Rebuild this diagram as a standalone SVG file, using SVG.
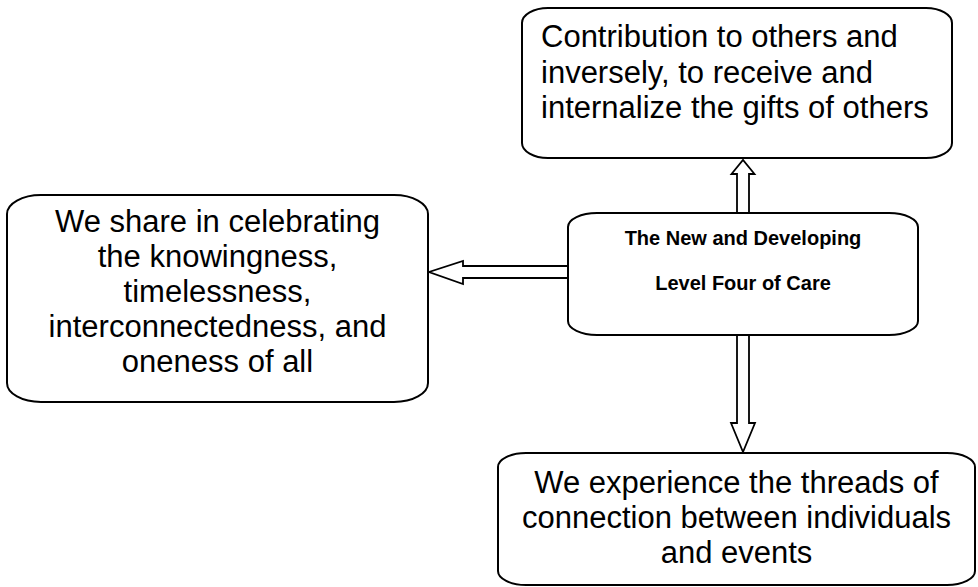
<svg xmlns="http://www.w3.org/2000/svg" width="978" height="587" viewBox="0 0 978 587">
  <style>
    .box { fill: #ffffff; stroke: #000000; stroke-width: 2; }
    .arrow { fill: #ffffff; stroke: #000000; stroke-width: 1.8; stroke-linejoin: miter; }
    .big { font-family: "Liberation Sans", Arial, sans-serif; font-size: 31px; fill: #000000; }
    .mid { text-anchor: middle; }
    .core { font-family: "Liberation Sans", Arial, sans-serif; font-size: 20px; font-weight: bold; fill: #000000; text-anchor: middle; }
  </style>
  <rect width="978" height="587" fill="#ffffff"/>

  <!-- block arrows linking the central node to the three outer nodes -->
  <g id="connectors">
    <!-- up -->
    <polygon class="arrow" points="737,213 737,174 731.5,174 743,160 754.5,174 749,174 749,213"/>
    <!-- left -->
    <polygon class="arrow" points="568,266 463,266 463,261 429,272 463,284 463,278 568,278"/>
    <!-- down -->
    <polygon class="arrow" points="737,335 737,423 731,423 743,452 755,423 749,423 749,335"/>
  </g>

  <g id="node-contribution">
    <rect class="box" x="522" y="8" width="430" height="150" rx="26" ry="15"/>
    <text class="big" x="541" y="47">Contribution to others and</text>
    <text class="big" x="541" y="82.5">inversely, to receive and</text>
    <text class="big" x="541" y="118">internalize the gifts of others</text>
  </g>

  <g id="node-sharing">
    <rect class="box" x="7" y="195" width="421" height="207" rx="34" ry="19"/>
    <text class="big mid" x="217.5" y="232">We share in celebrating</text>
    <text class="big mid" x="217.5" y="267">the knowingness,</text>
    <text class="big mid" x="217.5" y="302">timelessness,</text>
    <text class="big mid" x="217.5" y="337">interconnectedness, and</text>
    <text class="big mid" x="217.5" y="372">oneness of all</text>
  </g>

  <g id="node-core">
    <rect class="box" x="568" y="213" width="350" height="122" rx="29" ry="14"/>
    <text class="core" x="743" y="245">The New and Developing</text>
    <text class="core" x="743" y="290">Level Four of Care</text>
  </g>

  <g id="node-threads">
    <rect class="box" x="498" y="453" width="477" height="132" rx="28" ry="14"/>
    <text class="big mid" x="736.5" y="493">We experience the threads of</text>
    <text class="big mid" x="736.5" y="528">connection between individuals</text>
    <text class="big mid" x="736.5" y="563">and events</text>
  </g>
</svg>
